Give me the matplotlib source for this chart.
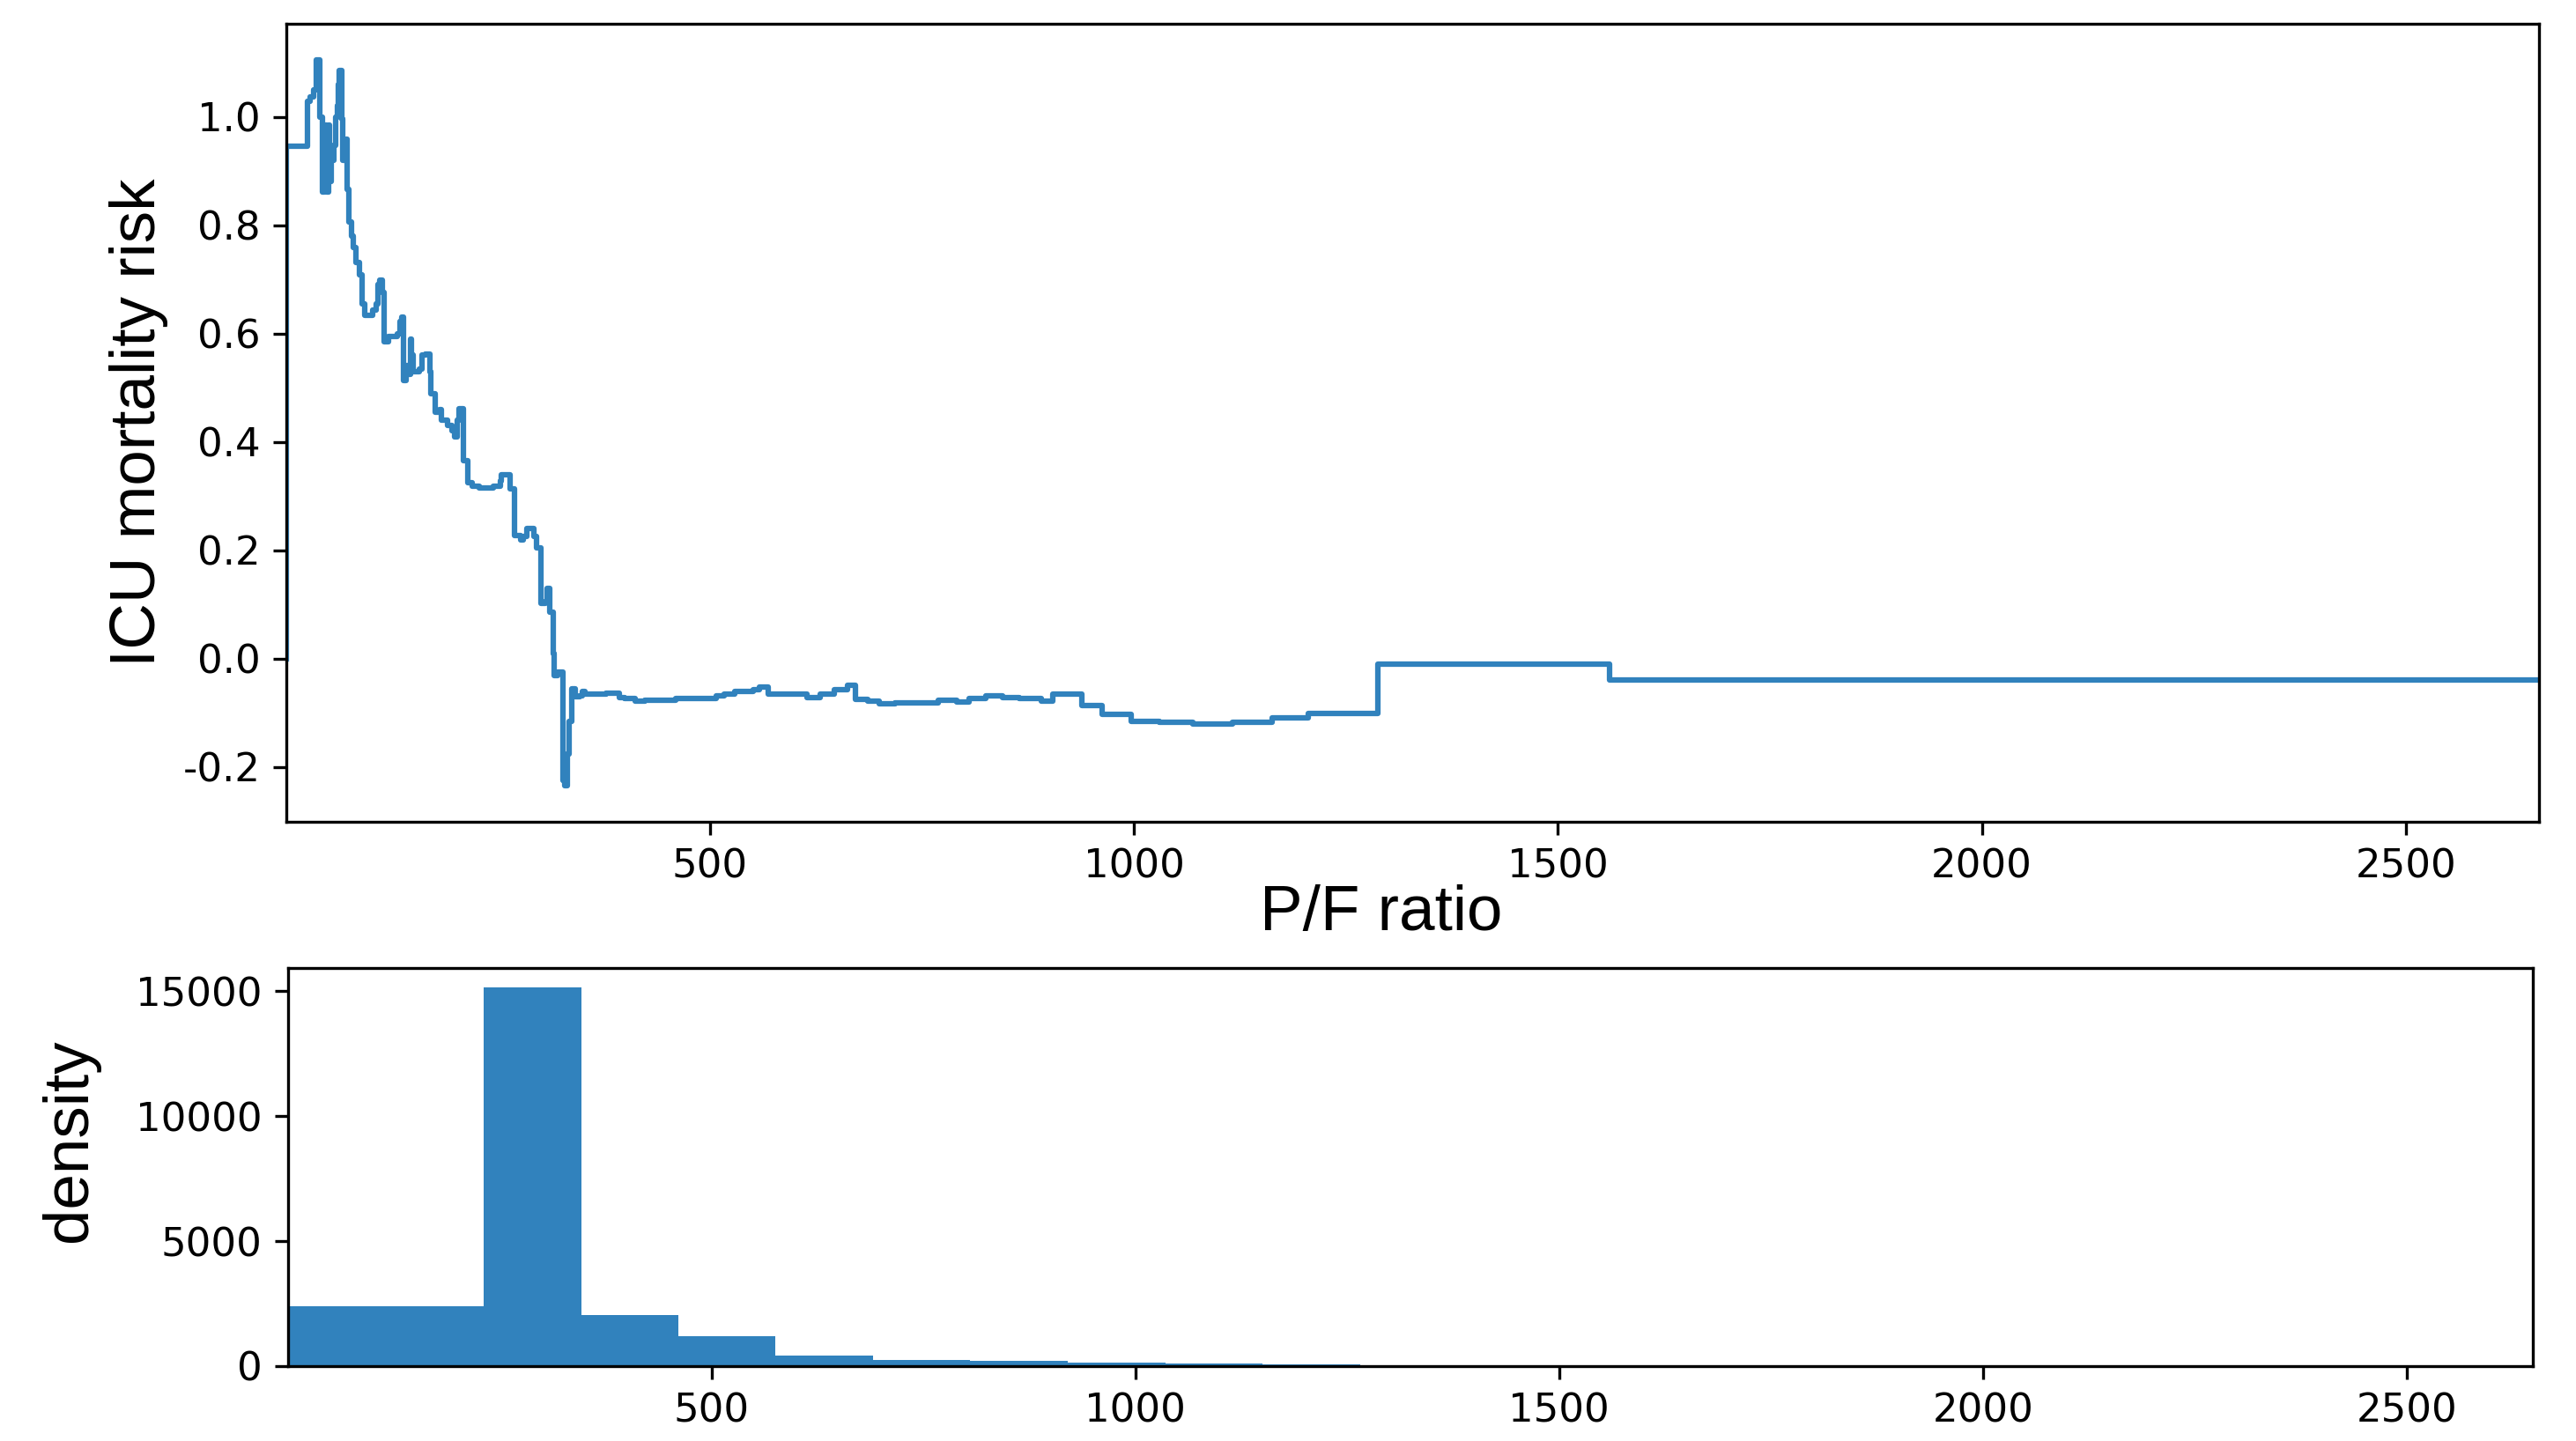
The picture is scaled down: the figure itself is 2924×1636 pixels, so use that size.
import numpy as np
import matplotlib
matplotlib.use("Agg")
import matplotlib.pyplot as plt

plt.rcParams['axes.unicode_minus'] = False

# accumulated effect curve (step function)
pf_ratio = [0, 0, 25, 29, 33, 36, 40, 43, 45, 46.5, 48, 50, 51.5, 53.4, 56.8,
            58.5, 60.3, 61.5, 62.7, 65.5, 67.2, 70.7, 72.4, 74.1, 77.6, 79.3,
            82.8, 86.3, 89.7, 93.2, 101.9, 107, 109, 110.5, 114, 115.7, 120.9,
            131.3, 135, 137, 138.2, 141.7, 144, 146.9, 148.5, 150.4, 157.3,
            161, 164.2, 169.5, 171.2, 176.4, 181.6, 183.3, 190.2, 195.4, 198.9,
            202.3, 204.1, 209.3, 214.5, 219.7, 228.3, 245, 252.6, 254.3, 264.7,
            269.9, 276.8, 280, 283.8, 292.4, 295.9, 301.1, 306.3, 308, 310.8,
            311.5, 315, 316.7, 320, 327.1, 329, 332.3, 334, 337.5, 341, 346,
            349.6, 353, 377.3, 393.7, 399.6, 411.6, 423.5, 459.3, 473.2, 507,
            517, 528.9, 550.8, 558.8, 568.7, 614.4, 630.4, 646.3, 662.2, 672.1,
            686.1, 700, 717.9, 769.6, 791.5, 805.4, 825.3, 845.2, 865.1, 890.9,
            904.8, 938.7, 962.5, 996.8, 1030, 1070, 1116.3, 1162.7, 1205.8,
            1287.3, 1560.5, 2657]
risk = [0.0, 0.945, 1.029, 1.037, 1.05, 1.105, 1.0, 0.861, 0.96, 0.985, 0.861,
        0.985, 0.88, 0.92, 0.947, 1.0, 1.02, 1.06, 1.085, 0.996, 0.92, 0.958,
        0.866, 0.806, 0.78, 0.758, 0.731, 0.709, 0.655, 0.633, 0.644, 0.655,
        0.69, 0.698, 0.676, 0.584, 0.595, 0.6, 0.622, 0.63, 0.514, 0.541,
        0.525, 0.59, 0.56, 0.53, 0.535, 0.56, 0.562, 0.53, 0.489, 0.454, 0.46,
        0.44, 0.43, 0.42, 0.41, 0.44, 0.462, 0.365, 0.324, 0.318, 0.315, 0.318,
        0.328, 0.34, 0.313, 0.2265, 0.219, 0.225, 0.241, 0.225, 0.205, 0.102,
        0.105, 0.13, 0.12, 0.086, 0.01, -0.031, -0.025, -0.225, -0.234, -0.175,
        -0.115, -0.055, -0.07, -0.068, -0.06, -0.066, -0.063, -0.0715, -0.074,
        -0.078, -0.076, -0.074, -0.0727, -0.069, -0.065, -0.0597, -0.057,
        -0.0526, -0.065, -0.0715, -0.066, -0.057, -0.049, -0.0757, -0.078,
        -0.0835, -0.0813, -0.077, -0.08, -0.0727, -0.068, -0.0715, -0.0727,
        -0.078, -0.066, -0.0867, -0.103, -0.115, -0.1176, -0.121, -0.1176,
        -0.109, -0.101, -0.0103, -0.039, -0.039]

# histogram of P/F ratio
hist_edges = [1, 116, 231, 346, 461, 575, 690, 805, 920, 1035, 1150, 1265,
              1380, 1495, 1610, 1725, 1840, 1955, 2070, 2185, 2300, 2415,
              2530, 2649]
hist_counts = [2383, 2383, 15164, 2030, 1185, 411, 258, 211, 129, 94, 59,
               14, 8, 5, 3, 2, 1, 1, 0, 1, 0, 0, 1]

blue = "#3182bd"
label_font = ["Liberation Sans", "DejaVu Sans"]

fig = plt.figure(figsize=(2924 / 300, 1636 / 300), dpi=300)

# top: mortality risk curve
ax1 = fig.add_axes([324.5 / 2924, 1 - 933 / 1636, 2557.5 / 2924, 906.3 / 1636])
ax1.plot(pf_ratio, risk, drawstyle="steps-post", color=blue, linewidth=1.5)
ax1.set_xlim(pf_ratio[0], pf_ratio[-1])
ax1.set_xticks([500, 1000, 1500, 2000, 2500])
ax1.tick_params(labelsize=10.8)
ax1.set_ylabel("ICU mortality risk", fontsize=17.5, family=label_font)
ax1.set_xlabel("P/F ratio", fontsize=17.5, family=label_font)
ax1.xaxis.set_label_coords(0.486, -0.078)

# bottom: data density
ax2 = fig.add_axes([327 / 2924, 1 - 1551 / 1636, 2548 / 2924, 452 / 1636])
ax2.hist(hist_edges[:-1], bins=hist_edges, weights=hist_counts, color=blue)
ax2.set_xlim(0, hist_edges[-1])
ax2.set_xticks([500, 1000, 1500, 2000, 2500])
ax2.tick_params(labelsize=10.8)
ax2.set_ylabel("density", fontsize=17.5, family=label_font)
ax2.yaxis.set_label_coords(-0.084, 0.566)

fig.savefig("out.png", dpi=300)
